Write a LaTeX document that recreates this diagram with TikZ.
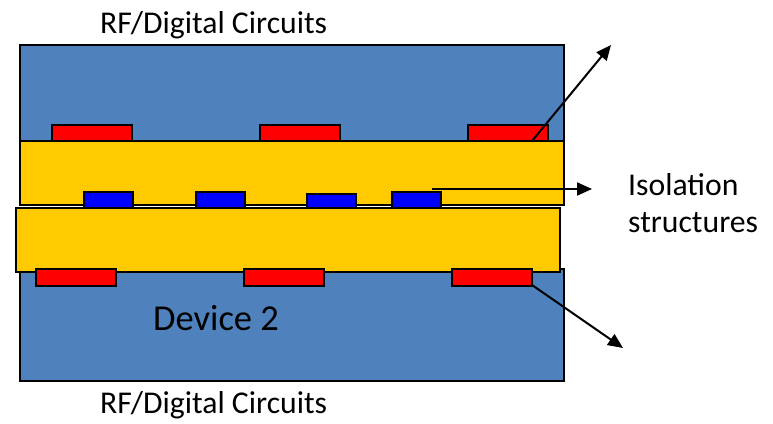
\documentclass[tikz,border=0pt]{standalone}
\usepackage{fontspec}
\setmainfont{Carlito}
\usetikzlibrary{arrows.meta}
\definecolor{DevBlue}{HTML}{4F81BD}
\definecolor{BondGold}{HTML}{FFCA00}
\definecolor{PadRed}{HTML}{FF0000}
\definecolor{PadBlue}{HTML}{0000FF}
\NewDocumentCommand{\PadMetal}{O{(0,0)}}{
    \begin{scope}[shift={#1}]
    \draw[outline, fill=PadRed] (0,0) rectangle (80,16.5);
    \end{scope}
}
\NewDocumentCommand{\PadIso}{O{(0,0)} O{16}}{
    \begin{scope}[shift={#1}]
    \draw[outline, fill=PadBlue] (0,0) rectangle (49,#2);
    \end{scope}
}
\tikzset{
    outline/.style={line width=2pt},
    caption/.style={font=\fontsize{31.7}{37}\selectfont, inner sep=0pt, anchor=base west},
    pointer/.style={line width=2pt, -{Triangle[length=15pt, width=13pt]}}
}
\newcommand{\Canvas}{
\useasboundingbox (0,0) rectangle (773,423);

\coordinate (top-pad) at (532,141);
\coordinate (top-end) at (611,45);
\coordinate (mid-pad) at (432,189);
\coordinate (mid-end) at (592,189);
\coordinate (bot-pad) at (532,285);
\coordinate (bot-end) at (623,348);
}

\begin{document}
\begin{tikzpicture}[x=1pt, y=-1pt]
\Canvas
% device 1 and device 2
\draw[outline, fill=DevBlue] (20,45) rectangle (564,142);
\draw[outline, fill=DevBlue] (20,269) rectangle (564,381);

\PadMetal[(52,125)]
\PadMetal[(260,125)]
\PadMetal[(468,125)]

% bonding layers
\draw[outline, fill=BondGold] (20,141) rectangle (564,205);
\draw[outline, fill=BondGold] (16,207.5) rectangle (560,272);

\PadIso[(84,192)]
\PadIso[(196,192)]
\PadIso[(307,193.5)][14.5]
\PadIso[(392,191.5)][16.5]

\PadMetal[(36,269)]
\PadMetal[(244,269)]
\PadMetal[(452,269)]

\node[caption] (rf-top) at (100,33) {RF/Digital Circuits};
\node[caption] (rf-bot) at (100,413) {RF/Digital Circuits};
\node[caption, font=\fontsize{36.5}{42}\selectfont] (dev2) at (153,330) {Device 2};
\node[caption] (iso) at (628,195) {Isolation};
\node[caption] (iso-2) at (628,232) {structures};

\draw[pointer] (top-pad) -- (top-end);
\draw[pointer] (mid-pad) -- (mid-end);
\draw[pointer] (bot-pad) -- (bot-end);

\end{tikzpicture}
\end{document}
